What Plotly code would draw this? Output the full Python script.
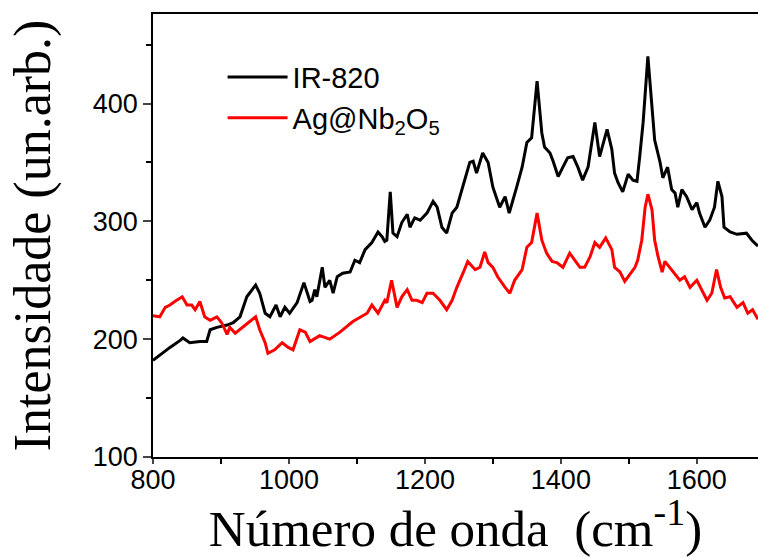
import plotly.graph_objects as go

# IR-820 spectrum (wavenumber, intensity)
ir_x = [800, 815, 825, 840, 844, 854, 869, 879, 884, 894, 909, 918, 928, 938, 943, 951, 957, 965, 972, 981,
        987, 994, 1001, 1012, 1022, 1031, 1034, 1038, 1041, 1049, 1053, 1060, 1065, 1071, 1079, 1090, 1097,
        1104, 1112, 1122, 1131, 1137, 1141, 1144, 1149, 1153, 1159, 1166, 1174, 1178, 1185, 1193, 1203, 1212,
        1218, 1225, 1232, 1240, 1247, 1251, 1259, 1266, 1271, 1276, 1285, 1293, 1300, 1310, 1318, 1324, 1335,
        1343, 1350, 1357, 1365, 1372, 1376, 1384, 1388, 1396, 1403, 1410, 1418, 1425, 1432, 1440, 1450, 1457,
        1468, 1475, 1479, 1484, 1491, 1499, 1506, 1512, 1516, 1521, 1528, 1534, 1538, 1546, 1550, 1557, 1563,
        1568, 1572, 1578, 1585, 1593, 1600, 1604, 1612, 1619, 1626, 1631, 1637, 1640, 1649, 1659, 1673, 1681, 1690]
ir_y = [182, 189, 193, 199, 201, 197, 198, 198, 208, 210, 212, 214, 219, 236, 240, 246, 239, 222, 219, 229,
        219, 227, 222, 231, 248, 232, 233, 242, 236, 261, 244, 250, 239, 253, 256, 257, 267,
        265, 276, 282, 291, 287, 283, 284, 325, 290, 287, 299, 306, 295, 303, 301, 307, 317,
        312, 295, 290, 307, 312, 320, 338, 350, 351, 341, 358, 350, 329, 312, 321, 307, 329,
        346, 367, 371, 419, 375, 363, 358, 352, 338, 346, 354, 355, 346, 335, 346, 384, 355,
        378, 361, 341, 333, 325, 340, 335, 334, 355, 384, 440, 397, 369, 350, 337, 346, 327,
        324, 312, 327, 321, 310, 316, 307, 295, 301, 312, 334, 321, 295, 291, 289, 290, 284, 279]

# Ag@Nb2O5 spectrum (wavenumber, intensity)
ag_x = [800, 810, 818, 825, 832, 843, 850, 857, 862, 869, 876, 884, 894, 901, 909, 913, 921, 932, 943, 951,
        957, 965, 969, 979, 990, 999, 1006, 1016, 1024, 1031, 1045, 1060, 1075, 1094, 1115, 1122, 1131, 1141,
        1144, 1151, 1159, 1166, 1174, 1181, 1188, 1196, 1203, 1212, 1222, 1232, 1240, 1247, 1256, 1263, 1274,
        1281, 1288, 1293, 1300, 1307, 1318, 1325, 1332, 1343, 1350, 1357, 1365, 1372, 1379, 1387, 1394, 1403,
        1413, 1421, 1428, 1435, 1443, 1450, 1457, 1466, 1475, 1479, 1487, 1494, 1501, 1509, 1513, 1519, 1524,
        1528, 1534, 1538, 1543, 1549, 1553, 1560, 1568, 1575, 1582, 1590, 1600, 1607, 1615, 1622, 1629, 1635,
        1641, 1649, 1659, 1668, 1675, 1682, 1690]
ag_y = [220, 219, 227, 229, 232, 236, 229, 229, 225, 232, 219, 216, 219, 214, 204, 210, 205, 210, 215, 219,
        208, 197, 188, 191, 197, 193, 191, 208, 206, 198, 203, 200, 206, 215, 222, 229, 222, 233,
        231, 250, 227, 236, 242, 233, 233, 231, 239, 239, 233, 225, 233, 244, 256, 266, 259,
        261, 274, 265, 261, 253, 244, 239, 250, 259, 278, 282, 307, 284, 273, 266, 265, 261,
        273, 267, 261, 261, 270, 282, 278, 286, 276, 261, 257, 249, 255, 261, 267, 284, 312,
        323, 310, 284, 270, 257, 266, 261, 255, 250, 253, 244, 250, 242, 233, 239, 259, 244,
        235, 236, 227, 231, 222, 225, 217]

x_tickvals = [800, 1000, 1200, 1400, 1600]
y_tickvals = [100, 200, 300, 400]

fig = go.Figure()
fig.add_trace(go.Scatter(x=ir_x, y=ir_y, mode="lines", name="IR-820",
                         line=dict(color="black", width=3)))
fig.add_trace(go.Scatter(x=ag_x, y=ag_y, mode="lines", name="Ag@Nb<sub>2</sub>O<sub>5</sub>",
                         line=dict(color="#ff0000", width=3)))

fig.update_layout(
    width=758, height=557,
    margin=dict(l=153, r=0, t=14, b=100),
    plot_bgcolor="white", paper_bgcolor="white",
    showlegend=True,
    legend=dict(x=0.115, y=0.915, xanchor="left", yanchor="top",
                font=dict(family="Liberation Sans, Arial", size=29, color="black"),
                bgcolor="rgba(0,0,0,0)", tracegroupgap=0, itemwidth=60),
    xaxis=dict(range=[800, 1690], tickvals=x_tickvals, ticks="outside", ticklen=5, tickwidth=1.5,
               showline=True, linecolor="black", linewidth=1.5, mirror=True, showgrid=False, zeroline=False,
               minor=dict(dtick=100, tick0=800, ticks="outside", ticklen=5, tickwidth=1.5, tickcolor="black"),
               tickfont=dict(family="Liberation Sans, Arial", size=27, color="black"),
               ticklabelstandoff=-7,
               title=dict(text="Número de onda  (cm<sup><span style='font-size:38px'>-1</span></sup>)", standoff=12,
                          font=dict(family="Liberation Serif, Times New Roman", size=51, color="black"))),
    yaxis=dict(range=[100, 476], tickvals=y_tickvals, ticks="outside", ticklen=8, tickwidth=1.5,
               showline=True, linecolor="black", linewidth=1.5, showgrid=False, zeroline=False,
               minor=dict(dtick=50, tick0=100, ticks="outside", ticklen=5, tickwidth=1.5, tickcolor="black"),
               tickfont=dict(family="Liberation Sans, Arial", size=27, color="black"),
               title=dict(text="Intensidade (un.arb.)", standoff=26,
                          font=dict(family="Liberation Serif, Times New Roman", size=52, color="black"))),
)

fig.write_html("out.html")
